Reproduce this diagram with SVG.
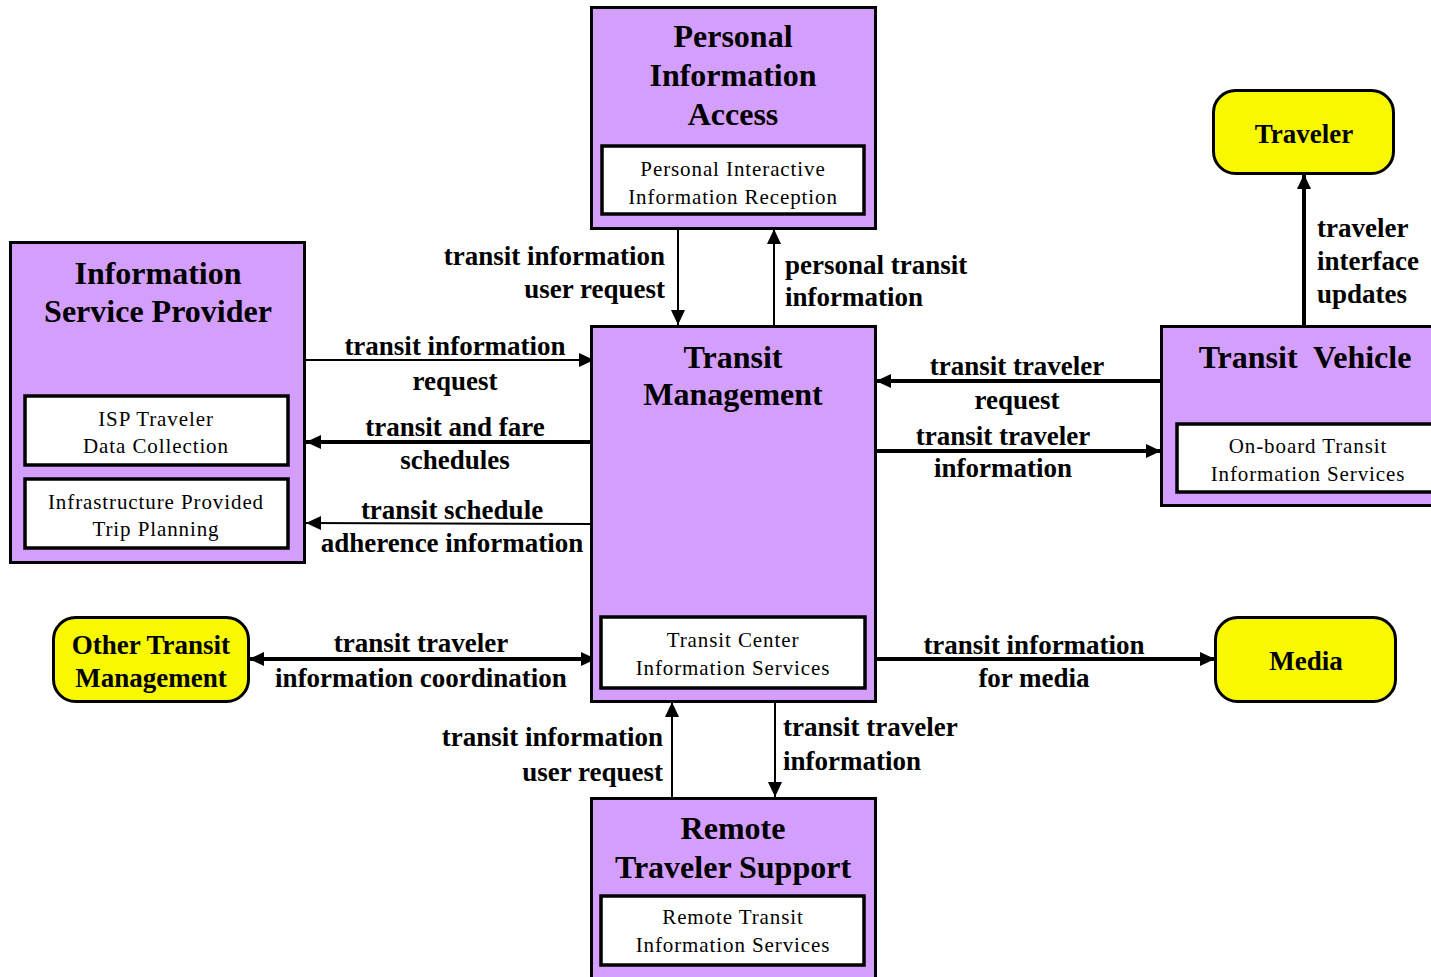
<svg xmlns="http://www.w3.org/2000/svg" width="1431" height="977" viewBox="0 0 1431 977">
  <style>
    .box { fill: #D49EFC; stroke: #000; stroke-width: 3; }
    .term { fill: #F8F800; stroke: #000; stroke-width: 3; }
    .inner { fill: #fff; stroke: #000; stroke-width: 3.5; }
    .title { font-family: "Liberation Serif", "Times New Roman", serif; font-weight: bold; font-size: 32px; text-anchor: middle; fill: #000; }
    .tterm { font-family: "Liberation Serif", "Times New Roman", serif; font-weight: bold; font-size: 27px; text-anchor: middle; fill: #000; }
    .sub { font-family: "Liberation Serif", "Times New Roman", serif; font-size: 21px; letter-spacing: 0.9px; text-anchor: middle; fill: #000; }
    .lbl { font-family: "Liberation Serif", "Times New Roman", serif; font-weight: bold; font-size: 27px; fill: #000; }
    .mid { text-anchor: middle; }
    .end { text-anchor: end; }
    .thin { stroke: #000; stroke-width: 2; fill: none; }
    .thick { stroke: #000; stroke-width: 4; fill: none; }
  </style>
  <defs>
    <marker id="arr" markerUnits="userSpaceOnUse" markerWidth="16" markerHeight="14" refX="15" refY="7" orient="auto-start-reverse">
      <path d="M0,0 L15,7 L0,14 z" fill="#000"/>
    </marker>
  </defs>

  <rect width="1431" height="977" fill="#fff"/>

  <!-- connectors -->
  <g id="connectors">
    <line class="thin" x1="678" y1="229" x2="678" y2="325" marker-end="url(#arr)"/>
    <line class="thin" x1="774" y1="325" x2="774" y2="229" marker-end="url(#arr)"/>
    <line class="thin" x1="306" y1="360" x2="594" y2="360" marker-end="url(#arr)"/>
    <line class="thick" x1="591" y1="442" x2="306" y2="442" marker-end="url(#arr)"/>
    <line class="thin" x1="596" y1="524" x2="306" y2="523" marker-end="url(#arr)"/>
    <line class="thick" x1="1161" y1="381" x2="876" y2="381" marker-end="url(#arr)"/>
    <line class="thick" x1="876" y1="451" x2="1161" y2="451" marker-end="url(#arr)"/>
    <line class="thick" x1="1304" y1="326" x2="1304" y2="174" marker-end="url(#arr)"/>
    <line class="thick" x1="249" y1="659" x2="596" y2="659" marker-start="url(#arr)" marker-end="url(#arr)"/>
    <line class="thick" x1="876" y1="659" x2="1215" y2="659" marker-end="url(#arr)"/>
    <line class="thin" x1="672" y1="798" x2="672" y2="702" marker-end="url(#arr)"/>
    <line class="thin" x1="775" y1="702" x2="775" y2="797" marker-end="url(#arr)"/>

    <text class="lbl end" x="665" y="265">transit information</text>
    <text class="lbl end" x="665" y="298">user request</text>
    <text class="lbl" x="785" y="274">personal transit</text>
    <text class="lbl" x="785" y="306">information</text>
    <text class="lbl mid" x="455" y="355">transit information</text>
    <text class="lbl mid" x="455" y="390">request</text>
    <text class="lbl mid" x="455" y="436">transit and fare</text>
    <text class="lbl mid" x="455" y="469">schedules</text>
    <text class="lbl mid" x="452" y="519">transit schedule</text>
    <text class="lbl mid" x="452" y="552">adherence information</text>
    <text class="lbl mid" x="1017" y="375">transit traveler</text>
    <text class="lbl mid" x="1017" y="409">request</text>
    <text class="lbl mid" x="1003" y="445">transit traveler</text>
    <text class="lbl mid" x="1003" y="477">information</text>
    <text class="lbl" x="1317" y="237">traveler</text>
    <text class="lbl" x="1317" y="270">interface</text>
    <text class="lbl" x="1317" y="303">updates</text>
    <text class="lbl mid" x="421" y="652">transit traveler</text>
    <text class="lbl mid" x="421" y="687">information coordination</text>
    <text class="lbl mid" x="1034" y="654">transit information</text>
    <text class="lbl mid" x="1034" y="687">for media</text>
    <text class="lbl end" x="663" y="746">transit information</text>
    <text class="lbl end" x="663" y="781">user request</text>
    <text class="lbl" x="783" y="736">transit traveler</text>
    <text class="lbl" x="783" y="770">information</text>
  </g>

  <!-- Personal Information Access -->
  <g id="personal-information-access">
    <rect class="box" x="591.5" y="7.5" width="284" height="221"/>
    <text class="title" x="733" y="47">Personal</text>
    <text class="title" x="733" y="86">Information</text>
    <text class="title" x="733" y="125">Access</text>
    <rect class="inner" x="602" y="146" width="262" height="68"/>
    <text class="sub" x="733" y="176">Personal Interactive</text>
    <text class="sub" x="733" y="204">Information Reception</text>
  </g>

  <!-- Information Service Provider -->
  <g id="information-service-provider">
    <rect class="box" x="10.5" y="242.5" width="294" height="320"/>
    <text class="title" x="158" y="284">Information</text>
    <text class="title" x="158" y="322">Service Provider</text>
    <rect class="inner" x="25" y="396" width="263" height="69"/>
    <text class="sub" x="156" y="426">ISP Traveler</text>
    <text class="sub" x="156" y="453">Data Collection</text>
    <rect class="inner" x="25" y="479" width="263" height="69"/>
    <text class="sub" x="156" y="509">Infrastructure Provided</text>
    <text class="sub" x="156" y="536">Trip Planning</text>
  </g>

  <!-- Transit Management -->
  <g id="transit-management">
    <rect class="box" x="591.5" y="326.5" width="284" height="375"/>
    <text class="title" x="733" y="368">Transit</text>
    <text class="title" x="733" y="405">Management</text>
    <rect class="inner" x="601" y="617" width="264" height="71"/>
    <text class="sub" x="733" y="647">Transit Center</text>
    <text class="sub" x="733" y="675">Information Services</text>
  </g>

  <!-- Transit Vehicle -->
  <g id="transit-vehicle">
    <rect class="box" x="1161.5" y="326.5" width="280" height="179"/>
    <text class="title" x="1305" y="368" xml:space="preserve">Transit  Vehicle</text>
    <rect class="inner" x="1177" y="424" width="270" height="68"/>
    <text class="sub" x="1308" y="453">On-board Transit</text>
    <text class="sub" x="1308" y="481">Information Services</text>
  </g>

  <!-- Traveler -->
  <g id="traveler">
    <rect class="term" x="1213.5" y="90.5" width="180" height="83" rx="22"/>
    <text class="tterm" x="1304" y="143">Traveler</text>
  </g>

  <!-- Other Transit Management -->
  <g id="other-transit-management">
    <rect class="term" x="53.5" y="617.5" width="195" height="84" rx="22"/>
    <text class="tterm" x="151" y="654">Other Transit</text>
    <text class="tterm" x="151" y="687">Management</text>
  </g>

  <!-- Media -->
  <g id="media">
    <rect class="term" x="1215.5" y="617.5" width="180" height="84" rx="22"/>
    <text class="tterm" x="1306" y="670">Media</text>
  </g>

  <!-- Remote Traveler Support -->
  <g id="remote-traveler-support">
    <rect class="box" x="591.5" y="798.5" width="284" height="185"/>
    <text class="title" x="733" y="839">Remote</text>
    <text class="title" x="733" y="878">Traveler Support</text>
    <rect class="inner" x="601" y="896" width="263" height="69"/>
    <text class="sub" x="733" y="924">Remote Transit</text>
    <text class="sub" x="733" y="952">Information Services</text>
  </g>
</svg>
